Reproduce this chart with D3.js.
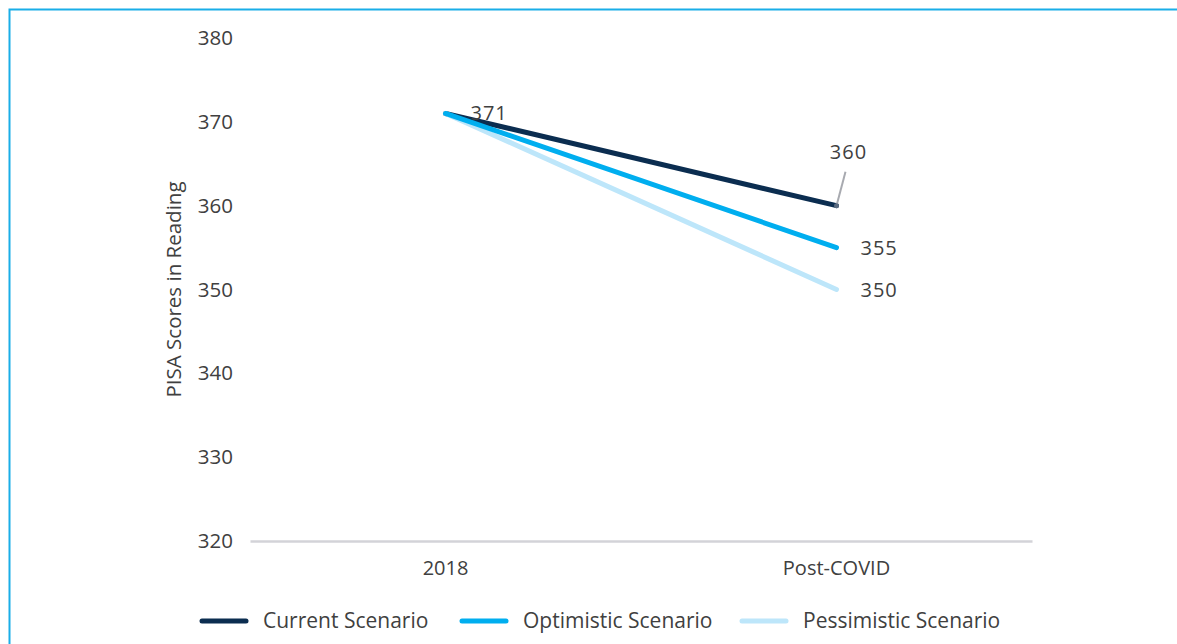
<!DOCTYPE html>
<html>
<head>
<meta charset="utf-8">
<script src="https://cdn.jsdelivr.net/npm/d3@7"></script>
<style>
  body { margin: 0; background: #fff; }
  svg { display: block; font-family: 'Open Sans', 'Noto Sans', sans-serif; }
</style>
</head>
<body>
<script>
const categories = ['2018', 'Post-COVID']
const seriesNames = ['Current Scenario', 'Optimistic Scenario', 'Pessimistic Scenario']
const currentValues = [371, 360]
const optimisticValues = [371, 355]
const pessimisticValues = [371, 350]
const yTicks = [320, 330, 340, 350, 360, 370, 380]

const w = 1177
const h = 644
const colors = ['#0b2d50', '#00aeef', '#bde6fa']

const series = [
  { name: seriesNames[0], values: currentValues, color: colors[0] },
  { name: seriesNames[1], values: optimisticValues, color: colors[1] },
  { name: seriesNames[2], values: pessimisticValues, color: colors[2] }
]

const svg = d3.select('body')
  .append('svg')
  .attr('width', w)
  .attr('height', h)

// frame
svg.append('path')
  .attr('d', `M9.5,${h} V9.5 H${w}`)
  .attr('fill', 'none')
  .attr('stroke', '#1aaee8')
  .attr('stroke-width', 2)

const xScale = d3.scaleBand()
  .domain(categories)
  .range([250, 1032])

const yScale = d3.scaleLinear()
  .domain([320, 380])
  .range([541, 38])

const xAxis = d3.axisBottom(xScale).tickSize(0).tickPadding(20)
const yAxis = d3.axisLeft(yScale).tickValues(yTicks).tickSize(0).tickPadding(17)

svg.append('g')
  .attr('transform', 'translate(0,541)')
  .call(xAxis)
  .attr('font-family', null)
  .attr('font-size', 20)
  .call(g => g.select('.domain').attr('stroke', '#d3d3d8').attr('stroke-width', 2.5))
  .call(g => g.selectAll('text').attr('fill', '#404040'))

svg.append('g')
  .attr('transform', 'translate(250,0)')
  .call(yAxis)
  .attr('font-family', null)
  .attr('font-size', 20.5)
  .call(g => g.select('.domain').remove())
  .call(g => g.selectAll('text').attr('fill', '#404040'))

svg.append('text')
  .attr('transform', `translate(181,${(38 + 541) / 2}) rotate(-90)`)
  .attr('text-anchor', 'middle')
  .attr('font-size', 20.5)
  .attr('fill', '#404040')
  .text('PISA Scores in Reading')

const cx = d => xScale(d) + xScale.bandwidth() / 2

const line = d3.line()
  .x((d, i) => cx(categories[i]))
  .y(d => yScale(d))

const drawOrder = [series[0], series[2], series[1]]
svg.selectAll('.series')
  .data(drawOrder)
  .enter()
  .append('path')
  .attr('class', 'series')
  .attr('d', d => line(d.values))
  .attr('fill', 'none')
  .attr('stroke', d => d.color)
  .attr('stroke-width', 5)
  .attr('stroke-linecap', 'round')

// data labels
const labelStyle = sel => sel
  .attr('font-size', 20)
  .attr('fill', '#404040')
  .attr('letter-spacing', 1)

svg.append('text')
  .attr('x', cx(categories[0]) + 25)
  .attr('y', yScale(currentValues[0]) + 7)
  .call(labelStyle)
  .text(currentValues[0])

// leader line for 360
const px = cx(categories[1])
const py = yScale(currentValues[1])
svg.append('line')
  .attr('x1', px).attr('y1', py)
  .attr('x2', px + 9).attr('y2', py - 34)
  .attr('stroke', '#a8aab0')
  .attr('stroke-width', 2)
svg.append('circle')
  .attr('cx', px).attr('cy', py).attr('r', 2.5)
  .attr('fill', '#5a6b80')

svg.append('text')
  .attr('x', px + 12)
  .attr('y', py - 47)
  .attr('text-anchor', 'middle')
  .call(labelStyle)
  .text(currentValues[1])

;[optimisticValues, pessimisticValues].forEach(vals => {
  svg.append('text')
    .attr('x', px + 24)
    .attr('y', yScale(vals[1]) + 7)
    .call(labelStyle)
    .text(vals[1])
})

// legend
const legendX = [200, 460, 740]
const legend = svg.selectAll('.legend')
  .data(series)
  .enter()
  .append('g')
  .attr('class', 'legend')
  .attr('transform', (d, i) => `translate(${legendX[i]},621)`)

legend.append('line')
  .attr('x1', 2).attr('x2', 46)
  .attr('stroke', d => d.color)
  .attr('stroke-width', 5)
  .attr('stroke-linecap', 'round')

legend.append('text')
  .attr('x', 63)
  .attr('y', 7)
  .attr('font-size', 21)
  .attr('fill', '#404040')
  .text(d => d.name)
</script>
</body>
</html>
